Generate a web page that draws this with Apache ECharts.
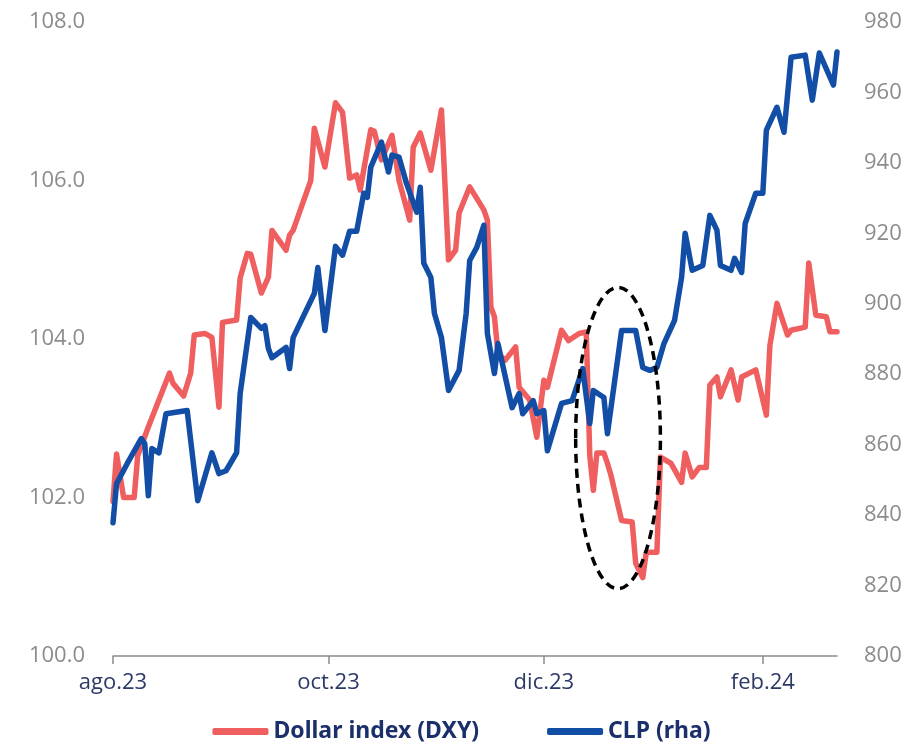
<!DOCTYPE html>
<html>
<head>
<meta charset="utf-8">
<script src="https://cdn.jsdelivr.net/npm/echarts@6/dist/echarts.min.js"></script>
<style>
  html, body { margin: 0; padding: 0; background: #fff; }
  #chart { width: 923px; height: 750px; }
</style>
</head>
<body>
<div id="chart"></div>
<script>
// Dollar index (DXY), left axis
var dxyDates = ['2023-08-01','2023-08-02','2023-08-04','2023-08-07','2023-08-08','2023-08-11','2023-08-14','2023-08-17','2023-08-18','2023-08-21',
  '2023-08-23','2023-08-24','2023-08-27','2023-08-29','2023-08-31','2023-09-01','2023-09-05','2023-09-06','2023-09-08','2023-09-09',
  '2023-09-12','2023-09-14','2023-09-15','2023-09-19','2023-09-20','2023-09-21','2023-09-24','2023-09-26','2023-09-27','2023-09-30',
  '2023-10-03','2023-10-05','2023-10-07','2023-10-09','2023-10-10','2023-10-13','2023-10-14','2023-10-16','2023-10-19','2023-10-21',
  '2023-10-24','2023-10-25','2023-10-27','2023-10-30','2023-11-02','2023-11-04','2023-11-06','2023-11-07','2023-11-10','2023-11-14',
  '2023-11-15','2023-11-16','2023-11-17','2023-11-18','2023-11-20','2023-11-23','2023-11-24','2023-11-27','2023-11-29','2023-12-01',
  '2023-12-02','2023-12-06','2023-12-08','2023-12-11','2023-12-13','2023-12-14','2023-12-15','2023-12-16','2023-12-18','2023-12-19',
  '2023-12-20','2023-12-23','2023-12-26','2023-12-27','2023-12-29','2023-12-30','2024-01-02','2024-01-03','2024-01-06','2024-01-09',
  '2024-01-10','2024-01-12','2024-01-14','2024-01-16','2024-01-17','2024-01-19','2024-01-20','2024-01-23','2024-01-25','2024-01-26',
  '2024-01-30','2024-02-02','2024-02-03','2024-02-05','2024-02-08','2024-02-09','2024-02-13','2024-02-14','2024-02-16','2024-02-19',
  '2024-02-20','2024-02-22'];
var dxyValues = [101.95,102.55,102.0,102.0,102.53,102.89,103.23,103.57,103.44,103.28,
  103.57,104.05,104.07,104.02,103.14,104.21,104.24,104.77,105.08,105.07,
  104.58,104.78,105.37,105.12,105.31,105.37,105.75,106.0,106.66,106.17,
  106.98,106.86,106.03,106.07,105.88,106.64,106.62,106.26,106.57,106.0,
  105.5,106.42,106.6,106.13,106.89,105.0,105.12,105.59,105.92,105.63,
  105.5,104.4,104.28,103.82,103.73,103.9,103.39,103.23,102.76,103.48,
  103.39,104.11,103.98,104.07,104.09,102.53,102.09,102.56,102.56,102.43,
  102.28,101.71,101.69,101.17,100.99,101.31,101.31,102.51,102.43,102.19,
  102.56,102.26,102.38,102.38,103.42,103.52,103.27,103.61,103.23,103.52,
  103.61,103.04,103.92,104.45,104.05,104.11,104.15,104.96,104.3,104.28,
  104.09,104.09];

// CLP, right axis
var clpDates = ['2023-08-01','2023-08-02','2023-08-05','2023-08-09','2023-08-10','2023-08-11','2023-08-12','2023-08-14','2023-08-16','2023-08-22',
  '2023-08-25','2023-08-29','2023-08-31','2023-09-02','2023-09-05','2023-09-06','2023-09-09','2023-09-12','2023-09-13','2023-09-14',
  '2023-09-15','2023-09-19','2023-09-20','2023-09-21','2023-09-27','2023-09-28','2023-09-30','2023-10-03','2023-10-05','2023-10-07',
  '2023-10-09','2023-10-11','2023-10-12','2023-10-13','2023-10-16','2023-10-18','2023-10-19','2023-10-21','2023-10-23','2023-10-26',
  '2023-10-27','2023-10-28','2023-10-30','2023-10-31','2023-11-02','2023-11-04','2023-11-07','2023-11-09','2023-11-10','2023-11-12',
  '2023-11-14','2023-11-15','2023-11-17','2023-11-18','2023-11-22','2023-11-24','2023-11-25','2023-11-28','2023-11-29','2023-12-01',
  '2023-12-02','2023-12-06','2023-12-09','2023-12-12','2023-12-14','2023-12-15','2023-12-18','2023-12-19','2023-12-23','2023-12-27',
  '2023-12-29','2023-12-31','2024-01-02','2024-01-04','2024-01-07','2024-01-09','2024-01-10','2024-01-12','2024-01-15','2024-01-17',
  '2024-01-19','2024-01-20','2024-01-23','2024-01-24','2024-01-26','2024-01-27','2024-01-30','2024-02-01','2024-02-02','2024-02-05',
  '2024-02-07','2024-02-09','2024-02-13','2024-02-15','2024-02-17','2024-02-21','2024-02-22'];
var clpValues = [837.8,848.9,854.6,861.7,860.3,845.5,858.9,857.7,868.8,869.7,
  844.1,857.7,851.8,852.6,857.7,874.5,896.1,893.0,893.8,887.3,
  884.7,887.6,881.6,890.4,902.9,910.3,892.4,916.3,913.8,920.6,
  920.6,931.4,930.2,938.8,945.9,937.4,942.2,941.6,934.5,926.0,
  933.1,911.5,907.5,897.3,890.4,875.4,881.1,897.3,912.3,916.0,
  922.3,891.6,880.2,888.7,870.5,874.5,868.8,872.5,868.8,869.7,
  858.3,871.7,872.5,881.6,866.0,875.4,873.4,863.1,892.4,892.4,
  881.9,881.1,881.9,888.7,895.3,907.5,920.0,909.5,910.9,925.1,
  920.9,910.9,909.5,912.9,908.9,922.8,931.4,931.4,949.3,955.8,
  948.7,970.0,970.6,957.8,971.2,962.1,971.5];

// x axis tick labels (first day of month)
var monthLabels = {
  '2023-08-01': 'ago.23',
  '2023-10-01': 'oct.23',
  '2023-12-01': 'dic.23',
  '2024-02-01': 'feb.24'
};

// dashed ellipse annotation (data units on left axis)
var highlight = { from: '2023-12-10', to: '2024-01-03', low: 100.85, high: 104.65 };

var days = [];
for (var t = Date.UTC(2023, 7, 1); t <= Date.UTC(2024, 1, 22); t += 86400000) {
  days.push(new Date(t).toISOString().slice(0, 10));
}

function toSeries (dates, values) {
  var map = {};
  dates.forEach(function (d, i) { map[d] = values[i]; });
  return days.map(function (d) { return map[d] === undefined ? null : map[d]; });
}

var chart = echarts.init(document.getElementById('chart'));
var axisLabelGrey = { color: '#8c8c8c', fontSize: 22, fontFamily: 'Open Sans' };

chart.setOption({
  animation: false,
  grid: { left: 113, right: 86, top: 22, bottom: 94 },
  legend: {
    bottom: 2,
    left: 'center',
    icon: 'roundRect',
    itemWidth: 56,
    itemHeight: 7,
    itemGap: 68,
    textStyle: { color: '#1b2f6b', fontSize: 23, fontWeight: 'bold', fontFamily: 'Noto Sans' },
    data: ['Dollar index (DXY)', 'CLP (rha)']
  },
  xAxis: {
    type: 'category',
    data: days,
    boundaryGap: false,
    axisLine: { lineStyle: { color: '#8a8a8a', width: 1.5 } },
    axisTick: {
      length: 8,
      lineStyle: { color: '#8a8a8a', width: 1.5 },
      interval: function (i, v) { return monthLabels[v] !== undefined; }
    },
    axisLabel: {
      interval: function (i, v) { return monthLabels[v] !== undefined; },
      formatter: function (v) { return monthLabels[v] || ''; },
      color: '#2c3a66', fontSize: 22, fontFamily: 'Open Sans', margin: 16
    },
    splitLine: { show: false }
  },
  yAxis: [
    {
      type: 'value', min: 100, max: 108, interval: 2,
      axisLine: { show: false }, axisTick: { show: false }, splitLine: { show: false },
      axisLabel: Object.assign({ margin: 28, formatter: function (v) { return v.toFixed(1); } }, axisLabelGrey)
    },
    {
      type: 'value', min: 800, max: 980, interval: 20,
      axisLine: { show: false }, axisTick: { show: false }, splitLine: { show: false },
      axisLabel: Object.assign({ margin: 27 }, axisLabelGrey)
    }
  ],
  series: [
    {
      name: 'Dollar index (DXY)', type: 'line', yAxisIndex: 0,
      data: toSeries(dxyDates, dxyValues), connectNulls: true, showSymbol: false,
      itemStyle: { color: '#ef5f5f' },
      lineStyle: { color: '#ef5f5f', width: 5.5, join: 'round', cap: 'round' }
    },
    {
      name: 'CLP (rha)', type: 'line', yAxisIndex: 1,
      data: toSeries(clpDates, clpValues), connectNulls: true, showSymbol: false,
      itemStyle: { color: '#124ea6' },
      lineStyle: { color: '#124ea6', width: 5.5, join: 'round', cap: 'round' }
    }
  ]
});

// place the dashed ellipse from data coordinates
var p1 = chart.convertToPixel({ xAxisIndex: 0, yAxisIndex: 0 }, [highlight.from, highlight.high]);
var p2 = chart.convertToPixel({ xAxisIndex: 0, yAxisIndex: 0 }, [highlight.to, highlight.low]);
chart.setOption({
  graphic: [{
    type: 'ellipse',
    z: 100,
    shape: { cx: (p1[0] + p2[0]) / 2, cy: (p1[1] + p2[1]) / 2, rx: Math.abs(p2[0] - p1[0]) / 2, ry: Math.abs(p2[1] - p1[1]) / 2 },
    style: { fill: 'none', stroke: '#000', lineWidth: 3.5, lineDash: [9, 6] }
  }]
});
</script>
</body>
</html>
